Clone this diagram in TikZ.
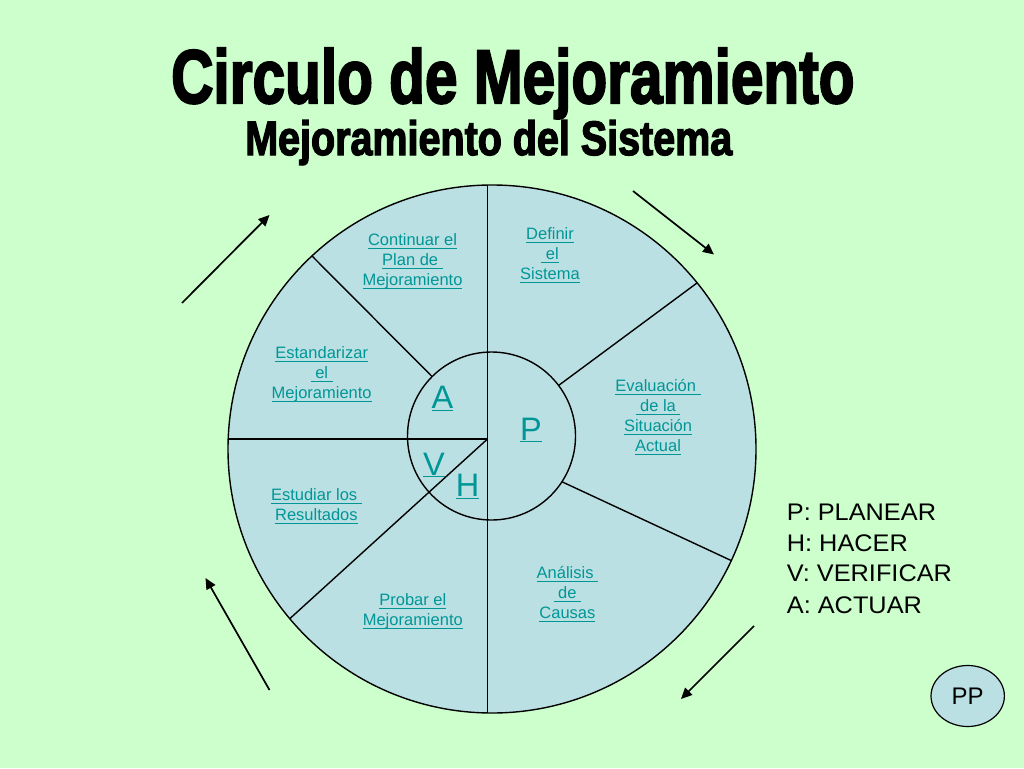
\documentclass[tikz,border=0pt]{standalone}
\usepackage{fontspec}
\setmainfont{Liberation Sans}
\newfontfamily\titlefont{Liberation Sans}[BoldFeatures={FakeBold=3}]
\usepackage{graphicx}
\usetikzlibrary{arrows.meta,shapes.geometric,calc}
\definecolor{bgc}{RGB}{204,255,204}
\definecolor{fillc}{RGB}{187,224,227}
\definecolor{linkc}{RGB}{0,150,150}
\newsavebox\lnkbox
\newcommand\lnk[1]{\sbox\lnkbox{#1}\rlap{\rule[-3.4pt]{\wd\lnkbox}{0.9pt}}\usebox\lnkbox}
\begin{document}
\begin{tikzpicture}[x=1pt,y=-1pt,
  ring/.style={circle, draw=black, fill=fillc, line width=1.4pt, inner sep=0, outer sep=0},
  divider/.style={draw=black, line width=1.4pt},
  cyc/.style={draw=black, line width=1.7pt, -{Triangle[length=11pt,width=10pt]}},
  lbl/.style={align=center, text=linkc, font=\fontsize{16.5}{20}\selectfont, anchor=base, inner sep=0},
  big/.style={text=linkc, font=\fontsize{32.5}{36}\selectfont, anchor=base, inner sep=0},
  legend/.style={anchor=base west, inner sep=0, font=\fontsize{24}{28}\selectfont}]
\fill[bgc] (0,0) rectangle (1024,768);
\useasboundingbox (0,0) rectangle (1024,768);

% title
\node[anchor=base west, inner sep=0] (title) at (171,103)
  {\resizebox{683pt}{55pt}{\titlefont\bfseries Circulo de Mejoramiento}};
\node[anchor=base west, inner sep=0] (subtitle) at (245,155)
  {\resizebox{487pt}{35pt}{\titlefont\bfseries Mejoramiento del Sistema}};

% circles
\node[ring, minimum size=528pt] (outer) at (492,449) {};
\node[ring, minimum size=168pt] (inner) at (491.5,436) {};
\coordinate (hub) at (487.5,439);

% dividers
\draw[divider] (hub |- outer.north) -- (hub |- outer.south);
\draw[divider] (outer.west |- hub) -- (hub);
\draw[divider] (hub) -- (outer.220);
\draw[divider] (inner.135) -- (outer.133);
\draw[divider] (inner.37.6) -- (outer.39.6);
\draw[divider] (inner.-33) -- (outer.-25);

% sector labels (anchor = baseline of the last line)
\node[lbl] (l1) at (412.5,285) {\lnk{Continuar el}\\\lnk{Plan de }\\\lnk{Mejoramiento}};
\node[lbl] (l2) at (550,279.5) {\lnk{Definir}\\\lnk{ el}\\\lnk{Sistema}};
\node[lbl] (l3) at (658,451) {\lnk{Evaluación }\\\lnk{ de la }\\\lnk{Situación}\\\lnk{Actual}};
\node[lbl] (l4) at (321.7,398) {\lnk{Estandarizar}\\\lnk{ el }\\\lnk{Mejoramiento}};
\node[lbl] (l5) at (316.4,520.4) {\lnk{Estudiar los }\\\lnk{Resultados}};
\node[lbl] (l6) at (412.8,625) {\lnk{Probar el}\\\lnk{Mejoramiento}};
\node[lbl] (l7) at (567.4,618) {\lnk{Análisis }\\\lnk{ de }\\\lnk{Causas}};

% PHVA letters
\node[big] (bA) at (442.5,408.3) {\underline{A}};
\node[big] (bP) at (531,440) {\underline{P}};
\node[big] (bV) at (434,475) {\underline{V}};
\node[big] (bH) at (467.7,496.7) {\underline{H}};

% cycle arrows
\coordinate (a1s) at (182,303);   \coordinate (a1e) at (269.5,215);
\coordinate (a2s) at (633,191);   \coordinate (a2e) at (714,254.5);
\coordinate (a3s) at (269.5,690); \coordinate (a3e) at (205.5,578);
\coordinate (a4s) at (754,626);   \coordinate (a4e) at (681,699);
\draw[cyc] (a1s) -- (a1e);
\draw[cyc] (a2s) -- (a2e);
\draw[cyc] (a3s) -- (a3e);
\draw[cyc] (a4s) -- (a4e);

% legend
\node[legend] (lgP) at (786.7,520.7) {\scalebox{1.055}[1]{P: PLANEAR}};
\node[legend] (lgH) at (786.7,551.7) {\scalebox{1.055}[1]{H: HACER}};
\node[legend] (lgV) at (786.7,581.7) {\scalebox{1.055}[1]{V: VERIFICAR}};
\node[legend] (lgA) at (786.7,613) {\scalebox{1.055}[1]{A: ACTUAR}};

% PP badge
\node[ellipse, draw=black, fill=fillc, line width=1.2pt, minimum width=73.4pt,
  minimum height=61pt, inner sep=0, font=\fontsize{24}{28}\selectfont] (pp) at (967.7,696) {PP};
\end{tikzpicture}
\end{document}
